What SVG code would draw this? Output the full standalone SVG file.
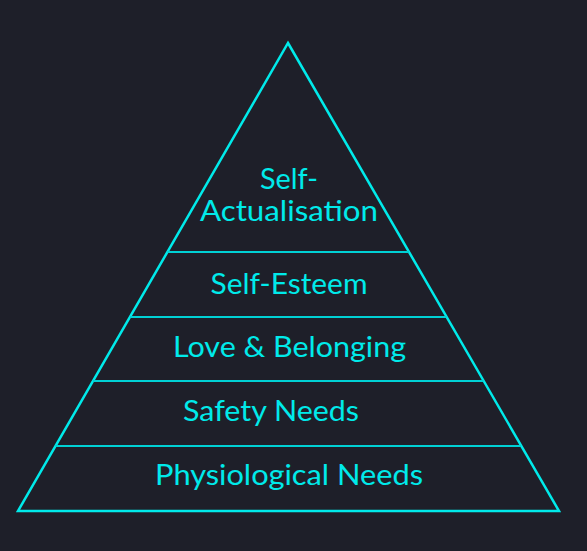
<svg xmlns="http://www.w3.org/2000/svg" width="587" height="551" viewBox="0 0 587 551">
<style>
.bg{fill:#1e1f29}
.outline{fill:none;stroke:#00eaea;stroke-width:2.5;stroke-linejoin:miter}
.div{stroke:#00d0d4;stroke-width:2}
.lbl{font-family:Lato,"Noto Sans",sans-serif;font-size:28px;fill:#00eaea;text-anchor:middle}
</style>
<rect class="bg" x="0" y="0" width="587" height="551"/>
<g id="pyramid">
<polygon class="outline" points="288,43 559,511 18,511"/>
</g>
<g id="connectors">
<line class="div" x1="167.5" y1="252" x2="409" y2="252"/>
<line class="div" x1="130" y1="317" x2="446.5" y2="317"/>
<line class="div" x1="93" y1="381" x2="483.5" y2="381"/>
<line class="div" x1="55.5" y1="446" x2="521" y2="446"/>
</g>
<g id="self-actualisation">
<text class="lbl" x="289" y="189" textLength="58" lengthAdjust="spacingAndGlyphs">Self-</text>
<text class="lbl" x="289" y="221" textLength="178" lengthAdjust="spacingAndGlyphs">Actualisation</text>
</g>
<g id="self-esteem">
<text class="lbl" x="289" y="294" textLength="157" lengthAdjust="spacingAndGlyphs">Self-Esteem</text>
</g>
<g id="love-belonging">
<text class="lbl" x="289.5" y="357" textLength="233" lengthAdjust="spacingAndGlyphs">Love &amp; Belonging</text>
</g>
<g id="safety-needs">
<text class="lbl" x="271" y="421" textLength="176" lengthAdjust="spacingAndGlyphs">Safety Needs</text>
</g>
<g id="physiological-needs">
<text class="lbl" x="289" y="485" textLength="268" lengthAdjust="spacingAndGlyphs">Physiological Needs</text>
</g>
</svg>
